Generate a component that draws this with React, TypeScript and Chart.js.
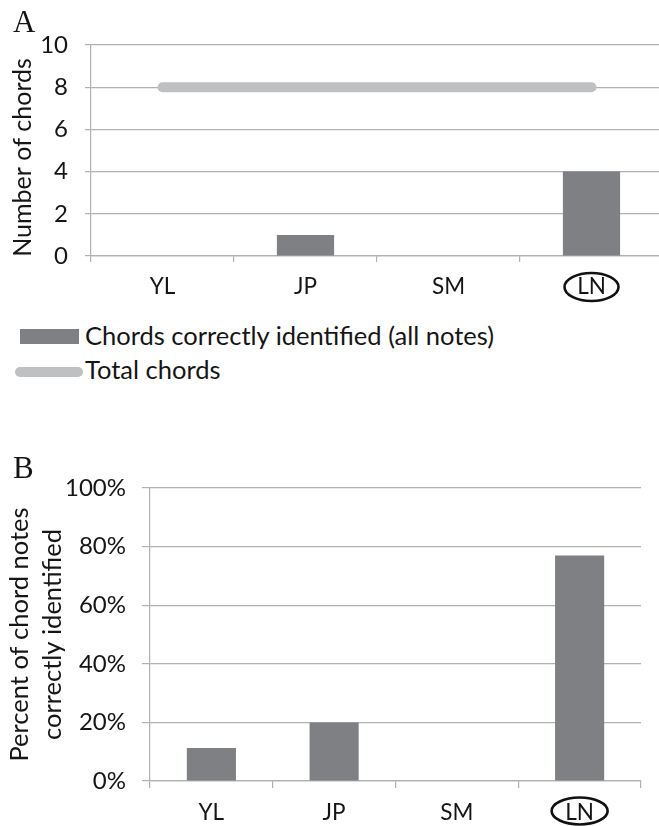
import React, { useEffect, useRef } from "react";
import { Chart, registerables } from "chart.js";
Chart.register(...registerables);

// ---- data ----
const performers = ["YL", "JP", "SM", "LN"];
const chordsCorrect = [0, 1, 0, 4];
const totalChords = [8, 8, 8, 8];
const percentNotesCorrect = [11.3, 20, 0, 77];
const countTicks = [0, 2, 4, 6, 8, 10];
const percentTicks = [0, 20, 40, 60, 80, 100];
const circledLabel = "LN";
const legendLabels = ["Chords correctly identified (all notes)", "Total chords"];
const titleA = "Number of chords";
const titleB = ["Percent of chord notes", "correctly identified"];

const FONT = "Lato";
const BAR = "#7f8084";
const LINE = "#bfc0c2";
const GRID = "#b1b1b1";
const TEXT = "#151515";

const circlePlugin = {
  id: "circleLabel",
  afterDraw(chart: any, _args: any, opts: any) {
    const xs = chart.scales.x;
    const idx = performers.indexOf(circledLabel);
    if (idx < 0) return;
    const cx = xs.getPixelForValue(idx);
    const cy = xs.top + opts.dy;
    const ctx = chart.ctx;
    ctx.save();
    ctx.beginPath();
    ctx.ellipse(cx, cy, opts.rx, opts.ry, 0, 0, Math.PI * 2);
    ctx.lineWidth = 2.6;
    ctx.strokeStyle = "#111";
    ctx.stroke();
    ctx.restore();
  },
};

// y-axis title drawn slightly below the chart-area centre (as in the reference)
const yTitlePlugin = {
  id: "yTitle",
  afterDraw(chart: any, _args: any, opts: any) {
    if (!opts || !opts.text) return;
    const area = chart.chartArea;
    const ctx = chart.ctx;
    ctx.save();
    ctx.translate(opts.x, (area.top + area.bottom) / 2 + opts.dy);
    ctx.rotate(-Math.PI / 2);
    ctx.font = `${opts.size}px ${FONT}`;
    ctx.fillStyle = TEXT;
    ctx.textAlign = "center";
    ctx.textBaseline = "middle";
    ctx.fillText(opts.text, 0, 0);
    ctx.restore();
  },
};

function makeX(tickLen: number, height: number) {
  return {
    type: "category" as const,
    offset: true,
    grid: {
      offset: true,
      drawOnChartArea: false,
      drawTicks: true,
      tickLength: tickLen,
      color: GRID,
      lineWidth: 1.2,
    },
    border: { display: true, color: GRID, width: 1.2 },
    ticks: { font: { family: FONT, size: 22.5 }, color: TEXT, padding: 11, maxRotation: 0 },
    afterFit: (s: any) => {
      s.height = height;
    },
  };
}

function ChartA() {
  const ref = useRef<HTMLCanvasElement | null>(null);
  useEffect(() => {
    const chart = new Chart(ref.current!, {
      type: "bar",
      data: {
        labels: performers,
        datasets: [
          {
            type: "line" as const,
            label: legendLabels[1],
            data: totalChords,
            borderColor: LINE,
            backgroundColor: LINE,
            borderWidth: 10,
            borderCapStyle: "round",
            pointRadius: 0,
            order: 0,
          } as any,
          {
            type: "bar" as const,
            label: legendLabels[0],
            data: chordsCorrect,
            backgroundColor: BAR,
            barPercentage: 0.4,
            categoryPercentage: 1,
            order: 1,
          },
        ],
      },
      options: {
        responsive: false,
        animation: false,
        layout: { padding: { top: 45, right: 9, left: 0, bottom: 0 } },
        plugins: {
          legend: { display: false },
          tooltip: { enabled: false },
          circleLabel: { dy: 31, rx: 27, ry: 14 },
          yTitle: { text: titleA, x: 23, dy: 7, size: 25 },
        } as any,
        scales: {
          x: makeX(6, 54) as any,
          y: {
            min: 0,
            max: 10,
            afterBuildTicks: (s: any) => {
              s.ticks = countTicks.map((v) => ({ value: v }));
            },
            grid: { color: GRID, lineWidth: 1.2, tickLength: 6 },
            border: { display: true, color: GRID, width: 1.2 },
            ticks: { font: { family: FONT, size: 24 }, color: TEXT, padding: 17 },
            title: { display: false },
            afterFit: (s: any) => {
              s.width = 91;
            },
          },
        },
      },
      plugins: [circlePlugin, yTitlePlugin],
    });
    return () => chart.destroy();
  }, []);
  return (
    <canvas
      ref={ref}
      width={672}
      height={310}
      style={{ position: "absolute", left: 0, top: 0, width: 672, height: 310 }}
    />
  );
}

function ChartB() {
  const ref = useRef<HTMLCanvasElement | null>(null);
  useEffect(() => {
    const chart = new Chart(ref.current!, {
      type: "bar",
      data: {
        labels: performers,
        datasets: [
          {
            label: titleB.join(" "),
            data: percentNotesCorrect,
            backgroundColor: BAR,
            barPercentage: 0.4,
            categoryPercentage: 1,
          },
        ],
      },
      options: {
        responsive: false,
        animation: false,
        layout: { padding: { top: 58, right: 18, left: 0, bottom: 0 } },
        plugins: {
          legend: { display: false },
          tooltip: { enabled: false },
          circleLabel: { dy: 30, rx: 28, ry: 13.5 },
        } as any,
        scales: {
          x: makeX(7, 45) as any,
          y: {
            min: 0,
            max: 100,
            afterBuildTicks: (s: any) => {
              s.ticks = percentTicks.map((v) => ({ value: v }));
            },
            grid: { color: GRID, lineWidth: 1.2, tickLength: 8 },
            border: { display: true, color: GRID, width: 1.2 },
            ticks: {
              font: { family: FONT, size: 24 },
              color: TEXT,
              padding: 16,
              callback: (v: any) => v + "%",
            },
            title: {
              display: true,
              text: titleB,
              font: { family: FONT, size: 25.5, lineHeight: 1.3 },
              color: TEXT,
              padding: { top: 3, bottom: 0 },
            },
            afterFit: (s: any) => {
              s.width = 150;
            },
          },
        },
      },
      plugins: [circlePlugin],
    });
    return () => chart.destroy();
  }, []);
  return (
    <canvas
      ref={ref}
      width={659}
      height={396}
      style={{ position: "absolute", left: 0, top: 430, width: 659, height: 396 }}
    />
  );
}

export default function App() {
  const txt: React.CSSProperties = {
    position: "absolute",
    fontFamily: FONT,
    fontSize: 25.5,
    color: TEXT,
    lineHeight: "26px",
    whiteSpace: "nowrap",
  };
  const letter: React.CSSProperties = {
    position: "absolute",
    fontFamily: "'Liberation Serif', serif",
    fontSize: 31,
    lineHeight: "31px",
    color: TEXT,
  };
  return (
    <div
      style={{
        position: "absolute",
        left: 0,
        top: 0,
        width: 659,
        height: 826,
        overflow: "hidden",
        background: "#fff",
      }}
    >
      <ChartA />
      <ChartB />
      <div style={{ ...letter, left: 13, top: 6 }}>A</div>
      <div style={{ ...letter, left: 13, top: 452 }}>B</div>
      <div style={{ position: "absolute", left: 20, top: 329, width: 59, height: 15, background: BAR }} />
      <div style={{ ...txt, left: 85, top: 322 }}>{legendLabels[0]}</div>
      <div
        style={{
          position: "absolute",
          left: 15,
          top: 367,
          width: 68,
          height: 10,
          borderRadius: 5,
          background: LINE,
        }}
      />
      <div style={{ ...txt, left: 85, top: 356 }}>{legendLabels[1]}</div>
    </div>
  );
}
